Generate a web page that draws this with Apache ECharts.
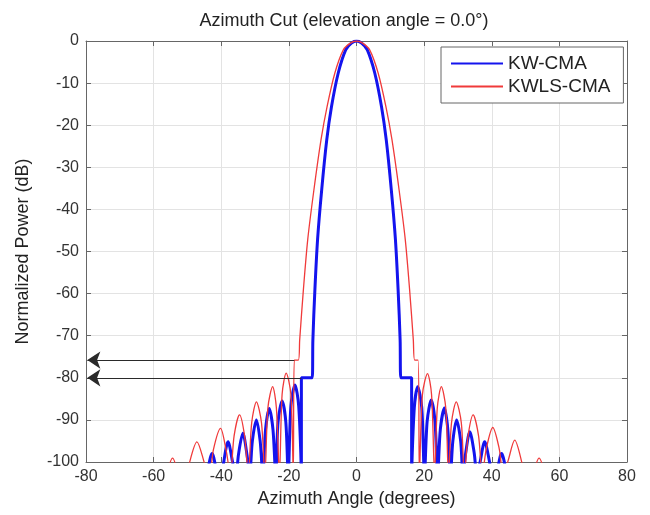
<!DOCTYPE html>
<html>
<head>
<meta charset="utf-8">
<script src="https://cdn.jsdelivr.net/npm/echarts@6/dist/echarts.min.js"></script>
<style>
  html, body { margin: 0; padding: 0; background: #ffffff; }
  #chart { width: 650px; height: 515px; }
</style>
</head>
<body>
<div id="chart"></div>
<script>
// Azimuth cut of two beam patterns, [angle (deg), normalized power (dB)]
// Nulls sit just under -100 dB and are clipped by the plot area.

// KW-CMA: left sidelobes, floor step, main lobe, floor step, right sidelobes
const kwLeftLobes = [
  [-45.3, -106], [-44.3, -103], [-42.7, -98.0], [-41.2, -103], [-40.2, -106],
  [-39.3, -100.2], [-38.0, -95.2], [-36.6, -100.2], [-35.7, -104],
  [-34.9, -98.2], [-33.6, -93.2], [-32.4, -98.2], [-31.6, -103],
  [-30.8, -95.0], [-29.6, -90.0], [-28.5, -95.0], [-27.7, -103],
  [-26.9, -92.3], [-25.8, -87.3], [-24.7, -92.3], [-23.9, -103],
  [-23.2, -90.5], [-22.0, -85.5], [-20.9, -90.5], [-20.2, -103],
  [-19.4, -86.7], [-18.2, -81.7], [-17.1, -86.7], [-16.3, -103]
];
const kwMainLobe = [
  [-16.3, -80.0], [-13.1, -80.0],
  [-12.9, -71], [-12.3, -59], [-11.5, -47], [-10.3, -35.4], [-8.8, -23.5],
  [-7.4, -15.6], [-5.4, -7.6], [-3.2, -2.1], [-1.5, -0.5], [0, 0],
  [1.5, -0.5], [3.2, -2.1], [5.4, -7.6], [7.4, -15.6], [8.8, -23.5],
  [10.3, -35.4], [11.5, -47], [12.3, -59], [12.9, -71],
  [13.1, -80.0], [16.3, -80.0]
];
const kwRightLobes = [
  [16.3, -103], [17.1, -87.1], [18.1, -82.1], [19.3, -87.1], [20.1, -103],
  [20.9, -90.3], [22.1, -85.3], [23.2, -90.3], [24.0, -103],
  [24.8, -92.2], [26.0, -87.2], [27.0, -92.2], [27.8, -103],
  [28.5, -95.0], [29.6, -90.0], [30.8, -95.0], [31.5, -103],
  [32.3, -97.8], [33.5, -92.8], [34.8, -97.8], [35.6, -103],
  [36.5, -100.2], [37.9, -95.2], [39.4, -100.2], [40.3, -104],
  [41.3, -103], [42.9, -98.0], [44.5, -103], [45.5, -106]
];

// KWLS-CMA
const kwlsLeftLobes = [
  [-58.0, -107], [-56.6, -104.1], [-54.4, -99.1], [-52.2, -104.1], [-50.8, -106],
  [-49.4, -100.2], [-47.2, -95.2], [-45.0, -100.2], [-43.6, -104],
  [-42.3, -97.0], [-40.2, -92.0], [-38.6, -97.0], [-37.3, -103],
  [-36.2, -93.8], [-34.6, -88.8], [-33.1, -93.8], [-32.0, -103],
  [-31.0, -90.7], [-29.6, -85.7], [-28.1, -90.7], [-27.1, -103],
  [-26.2, -87.1], [-24.8, -82.1], [-23.7, -87.1], [-22.8, -103],
  [-22.0, -83.9], [-20.8, -78.9], [-19.4, -83.9], [-18.7, -103]
];
const kwlsMainLobe = [
  [-18.4, -75.8], [-17.2, -75.8],
  [-16.8, -71], [-15.7, -59], [-14.4, -47], [-12.6, -35.4], [-10.5, -23.5],
  [-8.7, -15.6], [-6.4, -7.6], [-3.9, -2.1], [-1.8, -0.5], [0, 0],
  [1.8, -0.5], [3.9, -2.1], [6.4, -7.6], [8.7, -15.6], [10.5, -23.5],
  [12.6, -35.4], [14.4, -47], [15.7, -59], [16.8, -71],
  [17.2, -75.8], [18.2, -75.8]
];
const kwlsRightLobes = [
  [18.6, -103], [19.5, -84.0], [21.0, -79.0], [22.2, -84.0], [23.1, -103],
  [23.9, -87.1], [25.1, -82.1], [26.4, -87.1], [27.2, -103],
  [28.1, -90.7], [29.5, -85.7], [31.0, -90.7], [31.9, -103],
  [33.0, -93.8], [34.5, -88.8], [36.1, -93.8], [37.2, -103],
  [38.4, -96.8], [40.3, -91.8], [42.2, -96.8], [43.4, -103],
  [44.8, -99.8], [46.8, -94.8], [48.8, -99.8], [50.2, -106],
  [51.7, -104.1], [54.0, -99.1], [56.3, -104.1], [57.8, -107]
];

// Floor levels pointed at by the arrows: [start angle, level]
const kwlsFloor = [-18.4, -75.8];
const kwFloor = [-16.3, -80.0];
const arrowTipAngle = -79.6;

const seriesNames = ['KW-CMA', 'KWLS-CMA'];

const kwData = kwLeftLobes.concat(kwMainLobe, kwRightLobes);
const kwlsData = kwlsLeftLobes.concat(kwlsMainLobe, kwlsRightLobes);

const FONT = 'Liberation Sans, Arial, Helvetica, sans-serif';
const AXIS_COLOR = '#666666';
const TEXT_COLOR = '#333333';

const fmtTick = v => (v < 0 ? '-' + Math.abs(v) : String(v));

const chart = echarts.init(document.getElementById('chart'), null, { renderer: 'canvas' });

const baseX = {
  type: 'value', min: -80, max: 80, interval: 20,
  axisLine: { show: true, onZero: false, lineStyle: { color: AXIS_COLOR, width: 1 } },
  axisTick: { show: true, inside: true, length: 5, lineStyle: { color: AXIS_COLOR } },
  splitLine: { show: false }
};
const baseY = {
  type: 'value', min: -100, max: 0, interval: 10,
  axisLine: { show: true, onZero: false, lineStyle: { color: AXIS_COLOR, width: 1 } },
  axisTick: { show: true, inside: true, length: 5, lineStyle: { color: AXIS_COLOR } },
  splitLine: { show: false }
};

const arrowEnd = (from) => [
  { coord: from, symbol: 'none' },
  { coord: [arrowTipAngle, from[1]], symbol: 'arrow', symbolSize: 13 }
];

chart.setOption({
  animation: false,
  backgroundColor: '#ffffff',
  textStyle: { fontFamily: FONT },
  title: {
    text: 'Azimuth Cut (elevation angle = 0.0°)',
    left: 339, top: 7, textAlign: 'center',
    textStyle: { fontFamily: FONT, fontSize: 18, fontWeight: 'normal', color: '#222' }
  },
  grid: { left: 86, right: 23, top: 41, bottom: 53, containLabel: false },
  legend: {
    data: seriesNames,
    orient: 'vertical',
    left: 441, top: 47,
    padding: [7, 13, 7, 9],
    itemWidth: 52, itemHeight: 18, itemGap: 4,
    itemStyle: { opacity: 0 },
    backgroundColor: '#ffffff',
    borderColor: '#666666', borderWidth: 1,
    textStyle: { fontFamily: FONT, fontSize: 19, color: '#222' }
  },
  xAxis: [
    Object.assign({}, baseX, {
      position: 'bottom',
      name: 'Azimuth Angle (degrees)', nameLocation: 'middle', nameGap: 27,
      nameTextStyle: { fontFamily: FONT, fontSize: 18, color: '#222' },
      axisLabel: { show: true, margin: 7, fontSize: 16, color: TEXT_COLOR, fontFamily: FONT, formatter: fmtTick },
      splitLine: { show: true, lineStyle: { color: '#e3e3e3', width: 1 } }
    }),
    Object.assign({}, baseX, { position: 'top', axisLabel: { show: false } })
  ],
  yAxis: [
    Object.assign({}, baseY, {
      position: 'left',
      name: 'Normalized Power (dB)', nameLocation: 'middle', nameGap: 54,
      nameTextStyle: { fontFamily: FONT, fontSize: 18, color: '#222' },
      axisLabel: { show: true, margin: 7, fontSize: 16, color: TEXT_COLOR, fontFamily: FONT, formatter: fmtTick },
      splitLine: { show: true, lineStyle: { color: '#e3e3e3', width: 1 } }
    }),
    Object.assign({}, baseY, { position: 'right', axisLabel: { show: false } })
  ],
  series: [
    {
      name: seriesNames[0], type: 'line', xAxisIndex: 0, yAxisIndex: 0,
      data: kwData, showSymbol: false, symbol: 'none', smooth: 0.3, clip: true,
      lineStyle: { color: '#1414ee', width: 3 },
      itemStyle: { color: '#1414ee' },
      z: 2,
      markLine: {
        silent: true, animation: false,
        symbol: ['none', 'arrow'], symbolSize: 13,
        label: { show: false },
        lineStyle: { color: '#2a2a2a', width: 1, type: 'solid' },
        data: [arrowEnd(kwlsFloor), arrowEnd(kwFloor)]
      }
    },
    {
      name: seriesNames[1], type: 'line', xAxisIndex: 0, yAxisIndex: 0,
      data: kwlsData, showSymbol: false, symbol: 'none', smooth: 0.3, clip: true,
      lineStyle: { color: '#f03a3a', width: 1.3 },
      itemStyle: { color: '#f03a3a' },
      z: 3
    }
  ]
});
</script>
</body>
</html>
